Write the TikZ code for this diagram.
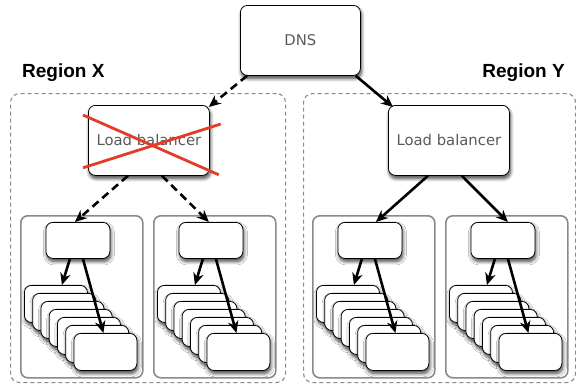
\documentclass[tikz,border=0pt]{standalone}
\usepackage{fontspec}
\setmainfont{DejaVu Sans}
\newfontfamily\headfont{Liberation Sans}
\usetikzlibrary{arrows.meta,shadows.blur}
\definecolor{textgray}{HTML}{5A5A5A}
\definecolor{framegray}{HTML}{8A8A8A}
\definecolor{crossred}{HTML}{E23D28}
\begin{document}
\begin{tikzpicture}[x=1pt,y=-1pt,
  box/.style={draw=black, line width=0.8pt, fill=white, rounded corners=7pt,
    anchor=north west, inner sep=0pt, text=textgray,
    font=\fontsize{14.8}{17}\selectfont,
    blur shadow={shadow xshift=1pt, shadow yshift=-3pt,
      shadow blur radius=3.5pt, shadow blur steps=7, shadow opacity=75}},
  regionbox/.style={draw=framegray, line width=1.1pt, rounded corners=9pt,
    dash pattern=on 4pt off 3pt, anchor=north west, inner sep=0pt},
  groupbox/.style={draw=framegray, line width=1.6pt, rounded corners=7pt,
    fill=white, anchor=north west, inner sep=0pt},
  regionlabel/.style={font=\headfont\bfseries\fontsize{19}{21}\selectfont, inner sep=0pt},
  arr/.style={line width=2.6pt, -{Stealth[length=12pt,width=10.5pt]}},
  darr/.style={arr, dash pattern=on 8pt off 5pt},
  crossline/.style={draw=crossred, line width=2.8pt}]
\useasboundingbox (0,0) rectangle (576,391);

% regions
\node[regionbox, minimum width=275pt, minimum height=289pt] (regX) at (10,93) {};
\node[regionbox, minimum width=272pt, minimum height=289pt] (regY) at (303,93) {};
\node[regionlabel, anchor=base west] (labX) at (22,77) {Region X};
\node[regionlabel, anchor=base east] (labY) at (565,77) {Region Y};

% server groups: a front box and a stack of seven backends
\foreach \gx/\n in {20/1,153/2,312/3,445/4}{
  \node[groupbox, minimum width=122pt, minimum height=162pt] (g\n) at (\gx,215) {};
  \node[box, minimum width=64pt, minimum height=36pt] (t\n) at ({\gx+25.5},222) {};
  \foreach \k in {0,...,6}{
    \node[box, minimum width=63pt, minimum height=37pt] (s\n-\k) at ({\gx+4+8.25*\k},{285+8*\k}) {};
  }
  \draw[arr] ([xshift=-8pt]t\n.south) -- ([xshift=6pt]s\n-0.north);
  \draw[arr] ([xshift=5pt]t\n.south) -- ([xshift=-2pt]s\n-6.north);
}

% load balancers and DNS
\node[box, minimum width=121pt, minimum height=70pt] (lb1) at (88,105) {Load balancer};
\node[box, minimum width=121pt, minimum height=70pt] (lb2) at (388,105) {Load balancer};
\node[box, minimum width=120pt, minimum height=70pt] (dns) at (240,5) {DNS};

% failed balancer
\draw[crossline] ([xshift=-5pt,yshift=-10pt]lb1.north west) -- ([xshift=9pt,yshift=1pt]lb1.south east);
\draw[crossline] ([xshift=-5pt,yshift=8pt]lb1.south west) -- ([xshift=11pt,yshift=-19pt]lb1.north east);

% connectors
\draw[darr] ([xshift=7pt]dns.south west) -- ([xshift=-1pt,yshift=-2pt]lb1.north east);
\draw[arr] ([xshift=-5pt]dns.south east) -- ([xshift=5pt,yshift=-2pt]lb2.north west);
\draw[darr] ([xshift=-21pt]lb1.south) -- ([xshift=-3pt]t1.north);
\draw[darr] ([xshift=13pt]lb1.south) -- ([xshift=-2pt]t2.north);
\draw[arr] ([xshift=-21pt]lb2.south) -- ([xshift=6pt]t3.north);
\draw[arr] ([xshift=13pt]lb2.south) -- ([xshift=5pt]t4.north);
\end{tikzpicture}
\end{document}
